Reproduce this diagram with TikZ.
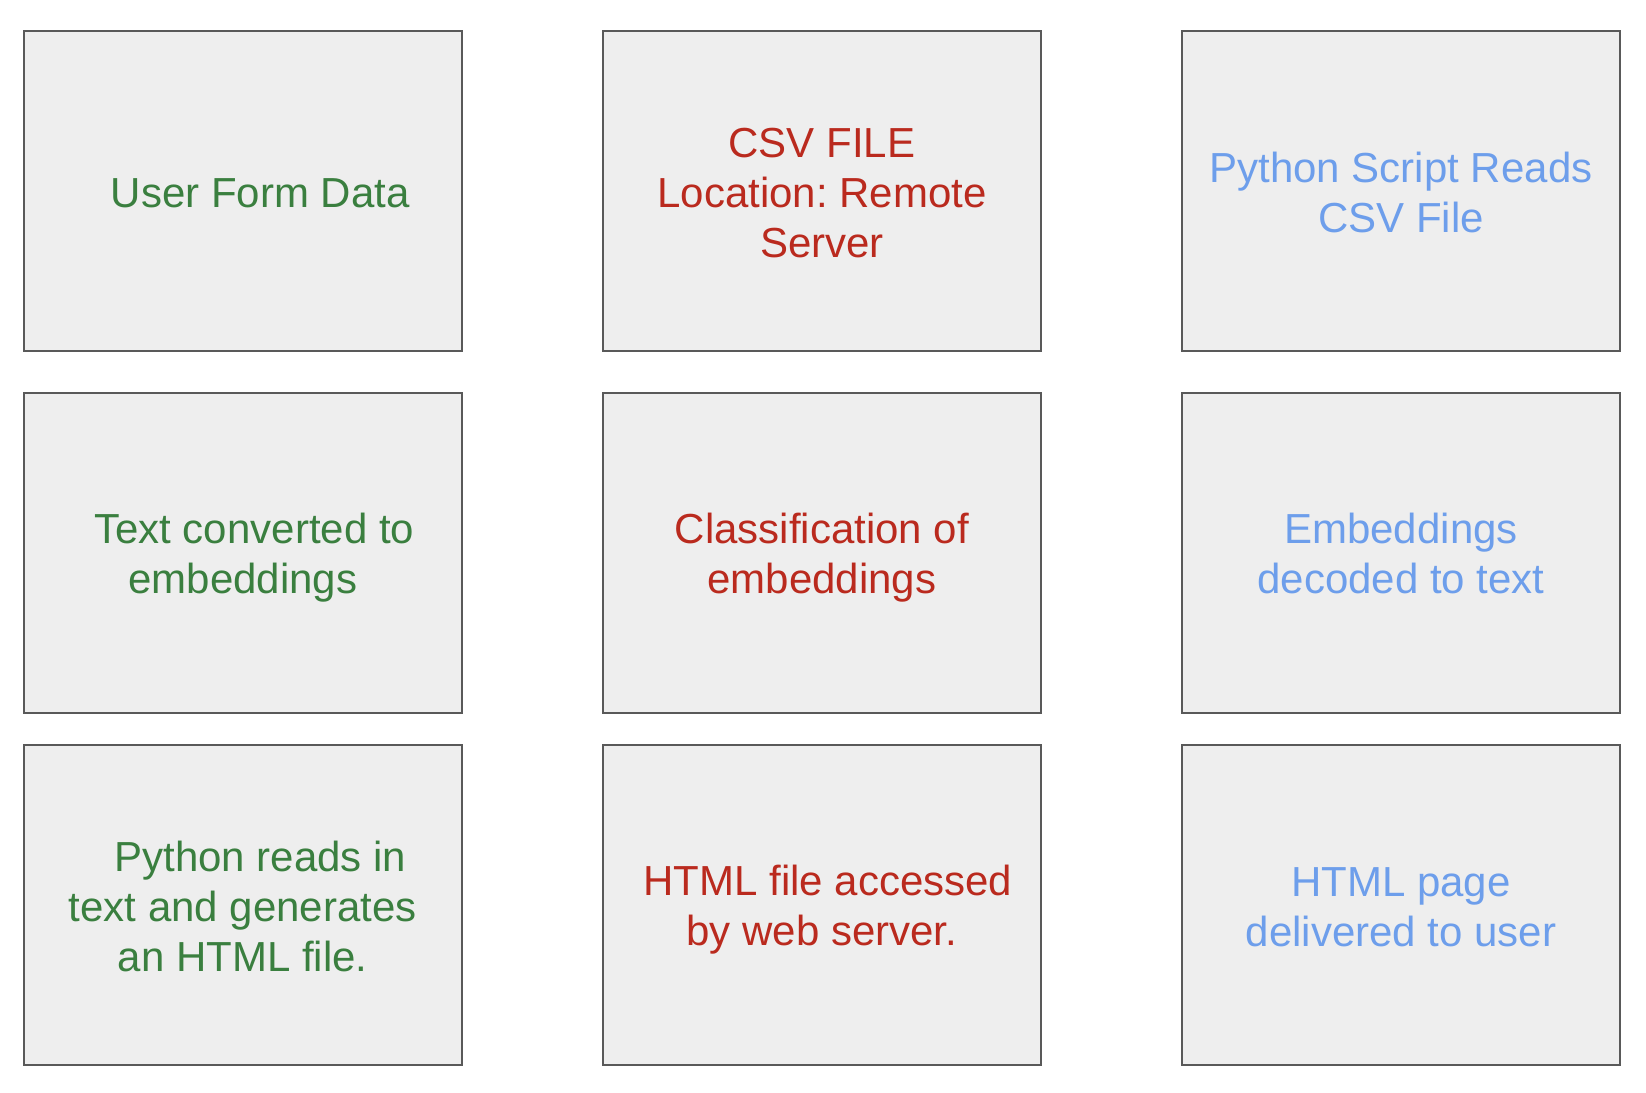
\documentclass[tikz,border=0pt]{standalone}
\usepackage{fontspec}
\setmainfont{Liberation Sans}
\frenchspacing
\definecolor{cellfill}{HTML}{EEEEEE}
\definecolor{cellline}{HTML}{595959}
\definecolor{stepgreen}{HTML}{3A7F3F}
\definecolor{stepred}{HTML}{BA2A1E}
\definecolor{stepblue}{HTML}{6D9EEB}
\newcommand{\rowstrut}{\rule[-8pt]{0pt}{48pt}}
\begin{document}
\begin{tikzpicture}[x=1pt, y=-1pt,
		cell/.style={draw=cellline, line width=2pt, fill=cellfill, rectangle,
			minimum width=438pt, minimum height=320pt, inner sep=0pt,
			align=center, font=\fontsize{42}{50}\selectfont},
		green/.style={cell, text=stepgreen},
		red/.style={cell, text=stepred},
		blue/.style={cell, text=stepblue}]
			\useasboundingbox (0,0) rectangle (1646,1092);
			% first column
			\node[green] (formdata) at (242.75,191) {\rowstrut\hspace*{35pt}User Form Data};
			\node[green] (toembed) at (242.75,552.5) {\rowstrut\hspace*{23pt}Text converted to\\\rowstrut embeddings};
			\node[green] (genhtml) at (242.75,905) {\rowstrut\hspace*{35pt}Python reads in\\\rowstrut text and generates\\\rowstrut an HTML file.};
			% second column
			\node[red] (csvfile) at (821.9,191) {\rowstrut CSV FILE\\\rowstrut Location: Remote\\\rowstrut Server};
			\node[red] (classify) at (821.9,552.5) {\rowstrut Classification of\\\rowstrut embeddings};
			\node[red] (webserver) at (821.9,905) {\rowstrut\hspace*{12pt}HTML file accessed\\\rowstrut by web server.};
			% third column
			\node[blue] (readcsv) at (1401,191) {\rowstrut Python Script Reads\\\rowstrut CSV File};
			\node[blue] (decode) at (1401,552.5) {\rowstrut Embeddings\\\rowstrut decoded to text};
			\node[blue] (deliver) at (1401,905) {\rowstrut HTML page\\\rowstrut delivered to user};
		\end{tikzpicture}
\end{document}
